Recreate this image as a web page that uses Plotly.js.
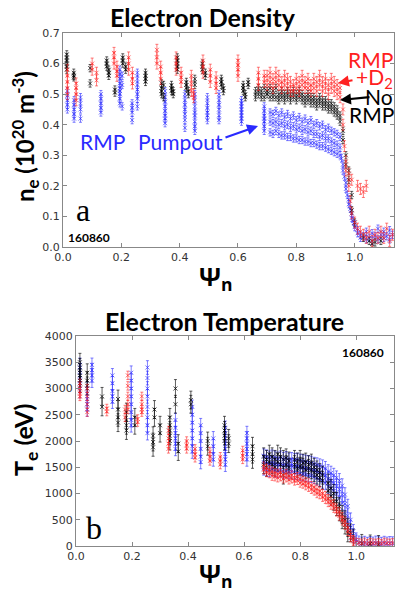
<!DOCTYPE html>
<html><head><meta charset="utf-8">
<script src="https://cdn.plot.ly/plotly-3.0.1.min.js"></script>
<style>html,body{margin:0;padding:0;background:#fff}#chart{width:396px;height:596px}</style>
</head><body><div id="chart"></div>
<script>
// ===== Panel a: electron density (1e20 m^-3) vs psi_n =====
const neBlackX = [
0.013,0.013,0.013,0.013,0.013,0.013,
0.037,0.037,0.037,
0.093,0.093,
0.150,0.150,0.150,
0.157,0.157,0.157,
0.178,0.178,
0.205,0.205,0.205,
0.215,0.215,
0.283,0.283,0.283,0.283,
0.338,0.338,0.338,0.338,
0.345,0.345,
0.372,0.372,0.372,
0.378,0.378,
0.392,0.392,0.392,0.392,0.392,
0.423,0.423,0.423,
0.430,0.430,
0.452,0.452,
0.478,0.478,0.478,
0.488,0.488,
0.543,0.543,0.543,
0.550,0.550,
0.618,0.618,0.618,
0.625,0.625,
0.635,0.635,
0.66,0.66,0.67,0.67,0.68,0.68,0.69,0.69,0.70,0.70,
0.71,0.71,0.72,0.72,0.73,0.73,0.74,0.74,0.75,0.75,
0.76,0.76,0.77,0.77,0.78,0.78,0.79,0.79,0.80,0.80,
0.81,0.81,0.82,0.82,0.83,0.83,0.84,0.84,0.85,0.85,
0.86,0.86,0.87,0.87,0.88,0.88,0.89,0.89,0.90,0.90,
0.91,0.91,0.92,0.92,0.93,0.93,0.94,0.94,0.95,0.95,
0.96,0.96,0.97,0.97,0.98,0.98,0.99,0.99,1.00,
1.03,1.05,1.06,1.07,1.09
];
const neBlackY = [
0.63,0.62,0.61,0.60,0.59,0.58,
0.57,0.56,0.555,
0.585,0.535,
0.61,0.60,0.59,
0.58,0.57,0.56,
0.515,0.505,
0.62,0.61,0.60,
0.59,0.58,
0.57,0.56,0.55,0.54,
0.535,0.52,0.51,0.50,
0.53,0.49,
0.53,0.52,0.51,
0.51,0.50,
0.62,0.61,0.60,0.59,0.58,
0.54,0.53,0.52,
0.51,0.50,
0.55,0.53,
0.60,0.59,0.58,
0.57,0.56,
0.55,0.54,0.53,
0.52,0.51,
0.53,0.52,0.51,
0.50,0.49,
0.54,0.53,
0.51,0.49,0.52,0.50,0.51,0.49,0.52,0.49,0.51,0.50,
0.52,0.49,0.51,0.49,0.52,0.49,0.50,0.48,0.51,0.49,
0.50,0.48,0.51,0.49,0.50,0.48,0.51,0.49,0.50,0.48,
0.51,0.49,0.50,0.48,0.49,0.47,0.50,0.48,0.49,0.47,
0.49,0.47,0.48,0.46,0.49,0.47,0.48,0.46,0.48,0.46,
0.47,0.45,0.47,0.45,0.46,0.44,0.45,0.43,0.43,0.41,
0.38,0.35,0.30,0.27,0.25,0.22,0.17,0.12,0.08,
0.03,0.02,0.01,0.015,0.02
];
const neBlackErr = 0.012;

const neRedX = [
0.015,0.015,0.015,0.015,0.015,
0.045,0.045,0.045,0.045,
0.100,0.100,
0.115,0.115,
0.175,0.175,0.175,
0.185,0.185,0.185,
0.225,0.225,0.225,
0.238,0.238,0.238,
0.322,0.322,0.322,
0.335,0.335,0.335,
0.388,0.388,0.388,
0.405,0.405,0.405,
0.440,0.440,0.440,
0.448,0.448,
0.480,0.480,0.480,
0.505,0.505,0.505,
0.525,0.525,0.525,
0.600,0.600,0.600,0.600,
0.670,0.670,0.670,
0.690,0.690,
0.70,0.70,0.71,0.71,0.72,0.72,0.73,0.73,0.74,0.74,
0.75,0.75,0.76,0.76,0.77,0.77,0.78,0.78,0.79,0.79,
0.80,0.80,0.81,0.81,0.82,0.82,0.83,0.83,0.84,0.84,
0.85,0.85,0.86,0.86,0.87,0.87,0.88,0.88,0.89,0.89,
0.90,0.90,0.91,0.91,0.92,0.92,0.93,0.93,0.94,0.94,
0.95,0.95,0.96,0.96,0.965,0.97,0.97,0.98,0.985,0.99,1.00,1.01,1.02,
0.98,0.99,1.01,1.02,1.03,1.04,
1.03,1.04,1.05,1.06,1.07,1.08,1.09,1.10,1.11,1.12,1.13
];
const neRedY = [
0.58,0.56,0.54,0.52,0.50,
0.535,0.52,0.50,0.48,
0.60,0.58,
0.57,0.545,
0.635,0.62,0.60,
0.59,0.575,0.56,
0.62,0.60,0.58,
0.57,0.55,0.535,
0.645,0.62,0.60,
0.59,0.57,0.55,
0.62,0.60,0.58,
0.57,0.555,0.54,
0.56,0.535,0.51,
0.50,0.49,
0.61,0.59,0.57,
0.58,0.56,0.54,
0.555,0.535,0.52,
0.61,0.595,0.58,0.56,
0.57,0.55,0.53,
0.56,0.54,
0.56,0.53,0.57,0.54,0.55,0.52,0.57,0.54,0.56,0.53,
0.54,0.52,0.56,0.53,0.55,0.52,0.54,0.51,0.53,0.51,
0.55,0.52,0.54,0.51,0.56,0.53,0.54,0.52,0.55,0.52,
0.53,0.51,0.55,0.52,0.54,0.51,0.56,0.53,0.54,0.51,
0.55,0.52,0.53,0.50,0.55,0.52,0.54,0.51,0.53,0.50,
0.52,0.49,0.45,0.40,0.33,0.28,0.25,0.20,0.15,0.11,0.08,0.06,0.05,
0.24,0.22,0.20,0.19,0.18,0.20,
0.04,0.03,0.05,0.02,0.04,0.03,0.05,0.03,0.06,0.02,0.04
];
const neRedErr = 0.018;

const neBlueX = [
0.015,0.015,0.015,0.015,0.015,
0.038,0.038,0.038,0.038,0.038,
0.060,0.060,0.060,0.060,
0.130,0.130,0.130,0.130,0.130,
0.195,0.195,0.195,0.195,0.195,0.195,0.195,0.195,0.195,
0.203,0.203,0.203,
0.237,0.237,0.237,0.237,
0.255,0.255,0.255,0.255,0.255,0.255,0.255,
0.350,0.350,0.350,0.350,0.350,0.350,0.350,0.350,
0.418,0.418,0.418,0.418,0.418,0.418,0.418,
0.452,0.452,0.452,0.452,0.452,0.452,0.452,0.452,
0.495,0.495,0.495,0.495,0.495,0.495,
0.535,0.535,0.535,0.535,0.535,0.535,
0.612,0.612,0.612,0.612,0.612,0.612,0.612,0.612,
0.690,0.690,0.690,0.690,0.690,0.690,0.690,
0.71,0.71,0.71,0.72,0.72,0.72,0.73,0.73,0.73,0.74,0.74,0.74,0.75,0.75,0.75,
0.76,0.76,0.76,0.77,0.77,0.77,0.78,0.78,0.78,0.79,0.79,0.79,0.80,0.80,0.80,
0.81,0.81,0.81,0.82,0.82,0.82,0.83,0.83,0.83,0.84,0.84,0.84,0.85,0.85,0.85,
0.86,0.86,0.86,0.87,0.87,0.87,0.88,0.88,0.88,0.89,0.89,0.89,0.90,0.90,0.90,
0.91,0.91,0.91,0.92,0.92,0.92,0.93,0.93,0.93,0.94,0.94,0.94,0.95,0.95,0.95,
0.955,0.96,0.96,0.965,0.97,0.97,0.975,0.98,0.98,0.985,0.99,0.99,0.995,1.00,1.00,1.01,1.01,
1.02,1.02,1.03,1.04,1.04,1.05,1.06,1.06,1.07,1.08,1.08,1.09,1.10,1.10,1.11,1.12,1.12,1.13
];
const neBlueY = [
0.51,0.495,0.48,0.465,0.45,
0.48,0.465,0.45,0.435,0.42,
0.49,0.47,0.45,0.42,
0.50,0.485,0.47,0.455,0.44,
0.58,0.565,0.55,0.535,0.52,0.51,0.50,0.485,0.47,
0.56,0.53,0.46,
0.47,0.455,0.44,0.415,
0.57,0.55,0.53,0.515,0.50,0.485,0.46,
0.51,0.49,0.475,0.46,0.445,0.43,0.42,0.405,
0.50,0.48,0.465,0.45,0.435,0.415,0.39,
0.50,0.48,0.46,0.44,0.43,0.41,0.395,0.38,
0.49,0.47,0.455,0.44,0.43,0.415,
0.50,0.48,0.465,0.45,0.43,0.415,
0.48,0.47,0.46,0.45,0.44,0.43,0.42,0.41,
0.46,0.445,0.43,0.42,0.41,0.395,0.38,
0.44,0.41,0.375,0.435,0.405,0.37,0.445,0.41,0.38,0.43,0.40,0.37,0.44,0.405,0.365,
0.425,0.395,0.365,0.435,0.40,0.36,0.42,0.39,0.36,0.43,0.395,0.355,0.415,0.385,0.355,
0.425,0.39,0.35,0.41,0.38,0.35,0.42,0.385,0.345,0.405,0.375,0.345,0.415,0.38,0.34,
0.40,0.37,0.34,0.405,0.37,0.335,0.395,0.36,0.33,0.40,0.365,0.33,0.385,0.355,0.325,
0.39,0.355,0.32,0.38,0.345,0.315,0.375,0.34,0.31,0.37,0.335,0.305,0.36,0.325,0.30,
0.29,0.27,0.25,0.23,0.21,0.19,0.17,0.155,0.14,0.125,0.11,0.095,0.085,0.075,0.065,0.055,0.045,
0.04,0.03,0.035,0.025,0.05,0.03,0.045,0.02,0.035,0.06,0.025,0.04,0.03,0.05,0.035,0.025,0.055,0.04
];
const neBlueErr = 0.012;

// ===== Panel b: electron temperature (eV) vs psi_n =====
const teBlackX = [
0.014,0.014,0.014,0.014,0.014,
0.040,0.040,0.040,
0.093,0.093,
0.150,0.150,0.150,0.150,
0.180,0.180,0.180,0.180,
0.210,0.210,
0.275,0.275,0.275,
0.280,0.280,
0.300,0.300,
0.335,0.335,0.335,0.335,0.335,
0.355,0.355,
0.365,0.365,
0.410,0.410,
0.470,0.470,
0.530,0.530,0.530,0.530,
0.545,0.545,
0.630,0.630,0.630,
0.67,0.67,0.68,0.68,0.69,0.69,0.70,0.70,0.71,0.71,
0.72,0.72,0.73,0.73,0.74,0.74,0.75,0.75,0.76,0.76,
0.78,0.78,0.79,0.79,0.80,0.80,0.81,0.81,0.82,0.82,
0.83,0.83,0.84,0.84,0.85,0.85,0.86,0.86,0.87,0.87,
0.88,0.88,0.90,0.90,0.91,0.91,0.92,0.92,0.93,0.93,
0.94,0.94,0.95,0.95,0.96,0.96,0.97,0.97,0.98,0.99,
1.02,1.05,1.08
];
const teBlackY = [
3500,3400,3300,3200,3100,
3300,3150,3050,
2850,2650,
2800,2600,2450,2350,
2550,2400,2300,2200,
2450,2300,
2100,1980,1880,
2600,2450,
2300,2150,
2450,2300,2200,2100,2000,
3000,2700,
1950,1800,
2780,2700,
2000,1900,
2300,2200,2100,2000,
2050,1950,
1900,1750,1650,
1700,1550,1650,1500,1750,1600,1700,1550,1650,1500,
1750,1600,1700,1550,1650,1350,1680,1550,1620,1500,
1650,1550,1600,1480,1650,1520,1580,1500,1600,1450,
1550,1480,1580,1450,1500,1400,1450,1350,1400,1300,
1350,1250,1200,1050,1100,950,1000,850,850,750,
750,650,600,500,500,400,350,250,250,150,
50,40,30
];
const teBlackErr = 170;

const teRedX = [
0.014,0.014,0.014,0.014,
0.040,0.040,0.040,0.040,
0.110,0.110,
0.175,0.175,
0.185,0.185,0.185,0.185,0.185,
0.220,0.220,
0.235,0.235,0.235,0.235,
0.330,0.330,0.330,0.330,
0.395,0.395,0.395,
0.425,0.425,0.425,
0.478,0.478,0.478,
0.515,0.515,0.515,
0.595,0.595,0.595,
0.67,0.67,0.68,0.68,0.69,0.69,0.70,0.70,0.71,0.71,
0.72,0.72,0.73,0.73,0.74,0.74,0.75,0.75,0.76,0.76,
0.77,0.77,0.78,0.78,0.79,0.79,0.80,0.80,0.81,0.81,
0.82,0.82,0.83,0.83,0.84,0.84,0.85,0.85,0.86,0.86,
0.87,0.87,0.88,0.88,0.89,0.89,0.90,0.90,0.91,0.91,
0.92,0.92,0.93,0.93,0.94,0.94,0.95,0.95,0.96,0.96,
0.97,0.97,0.98,0.98,0.99,0.99,1.00,
1.01,1.02,1.03,1.04,1.05,1.06,1.07,1.08,1.09,1.10,1.11,1.12,1.13
];
const teRedY = [
3100,3000,2900,2850,
3000,2850,2700,2550,
2620,2560,
2600,2450,
3250,3050,2850,2700,2600,
2420,2360,
2850,2700,2600,2550,
2200,2050,1950,1850,
2000,1920,1850,
1850,1750,1680,
1800,1700,1620,
1700,1620,1550,
1820,1720,1650,
1520,1450,1480,1400,1450,1380,1420,1330,1400,1320,
1380,1300,1400,1320,1350,1280,1380,1300,1330,1260,
1350,1280,1300,1240,1320,1250,1280,1200,1250,1180,
1220,1150,1200,1120,1150,1080,1120,1050,1080,1000,
1050,980,1000,930,960,890,900,830,850,780,
800,720,720,650,650,570,560,480,470,400,
350,280,220,160,120,90,70,
60,50,70,45,65,55,50,60,45,70,55,50,60
];
const teRedErr = 80;

const teBlueX = [
0.014,0.014,0.014,0.014,0.014,0.014,
0.040,0.040,0.040,0.040,0.040,
0.057,0.057,0.057,0.057,
0.130,0.130,0.130,0.130,0.130,
0.197,0.197,0.197,0.197,0.197,0.197,0.197,0.197,
0.255,0.255,0.255,0.255,0.255,0.255,0.255,0.255,
0.355,0.355,0.355,0.355,0.355,0.355,
0.415,0.415,0.415,0.415,0.415,0.415,0.415,
0.445,0.445,0.445,0.445,0.445,0.445,
0.490,0.490,0.490,0.490,
0.533,0.533,0.533,0.533,0.533,0.533,0.533,0.533,
0.610,0.610,0.610,0.610,0.610,0.610,
0.67,0.67,0.67,0.68,0.68,0.68,0.69,0.69,0.69,0.70,0.70,0.70,
0.71,0.71,0.71,0.72,0.72,0.72,0.73,0.73,0.73,0.74,0.74,0.74,
0.75,0.75,0.75,0.76,0.76,0.76,0.77,0.77,0.77,0.78,0.78,0.78,
0.79,0.79,0.79,0.80,0.80,0.80,0.81,0.81,0.81,0.82,0.82,0.82,
0.83,0.83,0.83,0.84,0.84,0.84,0.85,0.85,0.85,0.86,0.86,0.86,
0.87,0.87,0.87,0.88,0.88,0.88,0.89,0.89,0.89,0.90,0.90,0.90,
0.91,0.91,0.91,0.92,0.92,0.92,0.93,0.93,0.93,0.94,0.94,0.94,
0.95,0.95,0.95,0.96,0.96,0.96,0.97,0.97,0.97,0.98,0.98,0.98,
0.99,0.99,1.00,1.00,
1.01,1.02,1.03,1.04,1.05,1.06,1.07,1.08,1.09,1.10,1.11,1.12,1.13
];
const teBlueY = [
3450,3350,3250,3150,3050,2950,
3000,2900,2800,2700,2600,
3450,3350,3250,3150,
3250,3100,2950,2850,2750,
3300,3150,3000,2850,2700,2550,2400,2300,
3400,3200,3000,2850,2650,2450,2300,2150,
2400,2250,2150,2050,1950,1850,
2650,2500,2350,2200,2050,1900,1800,
2300,2150,2000,1850,1700,1600,
2050,1900,1750,1650,
2250,2150,2050,1950,1850,1750,1650,1550,
2150,2050,1950,1850,1750,1650,
1720,1600,1480,1700,1580,1460,1680,1560,1450,1700,1580,1470,
1680,1560,1440,1660,1550,1430,1680,1560,1450,1650,1540,1420,
1670,1550,1430,1640,1530,1410,1650,1540,1420,1630,1520,1400,
1640,1520,1400,1620,1500,1380,1610,1490,1370,1600,1480,1360,
1590,1470,1350,1580,1460,1340,1560,1440,1320,1550,1420,1290,
1530,1400,1260,1510,1370,1230,1480,1340,1200,1420,1280,1130,
1390,1240,1090,1350,1200,1050,1300,1140,990,1250,1080,920,
1150,980,820,980,800,620,760,580,420,500,350,250,
280,200,120,80,
60,40,55,35,50,40,60,45,35,55,40,50,45
];
const teBlueErr = 130;

// ===== rendering =====
const W = 396, H = 596;
const fx = p => p / W, fy = p => 1 - p / H;
const BLACK = 'rgba(0,0,0,0.7)', RED = 'rgba(255,35,35,0.65)', BLUE = 'rgba(40,40,255,0.65)';

function tr(x, y, err, color, xa, ya) {
  return {
    type: 'scatter', mode: 'markers', x: x, y: y, xaxis: xa, yaxis: ya,
    marker: {symbol: 'x-thin', size: 4, line: {width: 1, color: color}, color: color},
    error_y: {type: 'constant', value: err, color: color, thickness: 0.9, width: 1.5, visible: true},
    showlegend: false, hoverinfo: 'skip'
  };
}

const data = [
  tr(neBlueX, neBlueY, neBlueErr, BLUE, 'x', 'y'),
  tr(neBlackX, neBlackY, neBlackErr, BLACK, 'x', 'y'),
  tr(neRedX, neRedY, neRedErr, RED, 'x', 'y'),
  tr(teBlueX, teBlueY, teBlueErr, BLUE, 'x2', 'y2'),
  tr(teBlackX, teBlackY, teBlackErr, BLACK, 'x2', 'y2'),
  tr(teRedX, teRedY, teRedErr, RED, 'x2', 'y2')
];

const tickFont = {family: 'DejaVu Sans', size: 11, color: '#333'};
const axBase = {
  showline: true, linecolor: '#888', linewidth: 1, mirror: 'allticks',
  ticks: 'inside', ticklen: 4, tickcolor: '#888', showgrid: false, zeroline: false,
  tickfont: tickFont, fixedrange: true
};
const xTicks = [0, 0.2, 0.4, 0.6, 0.8, 1.0];
const xTickText = ['0.0', '0.2', '0.4', '0.6', '0.8', '1.0'];

const layout = {
  width: W, height: H, margin: {l: 0, r: 0, t: 0, b: 0},
  paper_bgcolor: '#fff', plot_bgcolor: '#fff',
  xaxis: Object.assign({}, axBase, {domain: [fx(63), fx(394)], range: [0, 1.135], tickvals: xTicks, ticktext: xTickText, anchor: 'y'}),
  yaxis: Object.assign({}, axBase, {domain: [fy(247), fy(33)], range: [0, 0.7], dtick: 0.1, tickformat: '.1f', anchor: 'x'}),
  xaxis2: Object.assign({}, axBase, {domain: [fx(76), fx(394)], range: [0, 1.135], tickvals: xTicks, ticktext: xTickText, anchor: 'y2'}),
  yaxis2: Object.assign({}, axBase, {domain: [fy(546), fy(336)], range: [0, 4000], dtick: 500, anchor: 'x2'}),
  annotations: []
};

const A = layout.annotations;
function txt(text, x, y, size, color, family, opts) {
  A.push(Object.assign({text: text, x: fx(x), y: fy(y), xref: 'paper', yref: 'paper',
    showarrow: false, xanchor: 'center', yanchor: 'middle',
    font: {family: family, size: size, color: color}}, opts || {}));
}
function arrow(tipX, tipY, tailX, tailY, color) {
  A.push({text: '', x: fx(tipX), y: fy(tipY), xref: 'paper', yref: 'paper',
    showarrow: true, ax: tailX - tipX, ay: tailY - tipY, axref: 'pixel', ayref: 'pixel',
    arrowhead: 2, arrowsize: 1, arrowwidth: 2.2, arrowcolor: color, standoff: 0, startstandoff: 0});
}
const SANS = 'Lato, "Open Sans", sans-serif';
const SERIF = '"Liberation Serif", "DejaVu Serif", serif';

txt('<b>Electron Density</b>', 203, 17, 25, '#000', SANS);
txt('<b>Electron Temperature</b>', 224, 321, 25, '#000', SANS);
txt('<b>n<sub>e</sub> (10<sup>20</sup> m<sup>-3</sup>)</b>', 25, 137, 24, '#000', SANS, {textangle: -90});
txt('<b>T<sub>e</sub> (eV)</b>', 25, 440, 25, '#000', SANS, {textangle: -90});
txt('<b>Ψ<sub>n</sub></b>', 216, 277, 25, '#000', '"Open Sans", sans-serif');
txt('<b>Ψ<sub>n</sub></b>', 216, 574, 25, '#000', '"Open Sans", sans-serif');

txt('RMP', 370, 60, 21, '#ff2020', SANS);
txt('+D<sub>2</sub>', 374, 78, 21, '#ff2020', SANS);
txt('No', 395, 96, 21, '#000', SANS, {xanchor: 'right'});
txt('RMP', 371, 114, 21, '#000', SANS);
txt('RMP', 102, 141, 21, '#2a2aff', SANS);
txt('Pumpout', 180, 141, 21, '#2a2aff', SANS);
arrow(338, 83, 354, 80, '#ff2020');
arrow(340, 100, 371, 97, '#000');
arrow(258, 126, 224, 138, '#2a2aff');

txt('a', 83, 210, 32, '#000', SERIF);
txt('<b>160860</b>', 89, 237, 12, '#000', SANS);
txt('<b>160860</b>', 363, 352, 12, '#000', SANS);
txt('b', 94, 528, 32, '#000', SERIF);

Plotly.newPlot('chart', data, layout, {staticPlot: true, displayModeBar: false});
</script></body></html>
